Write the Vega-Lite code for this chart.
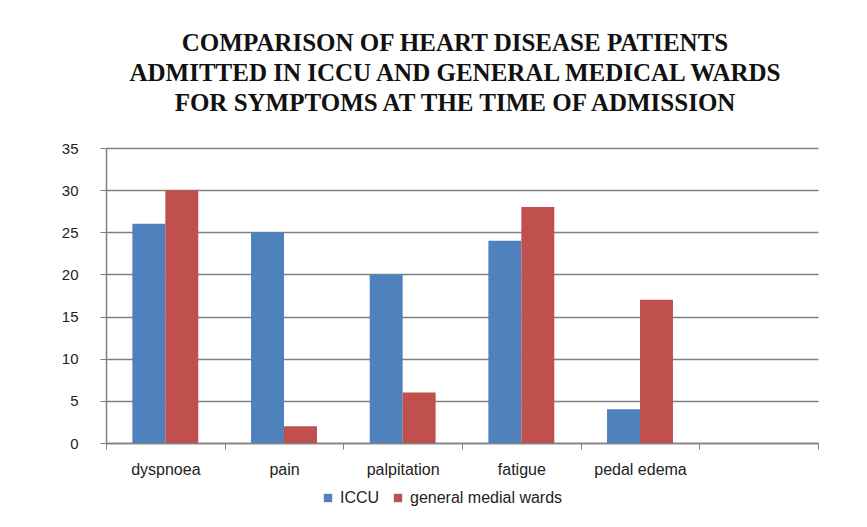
{
  "$schema": "https://vega.github.io/schema/vega-lite/v6.json",
  "autosize": "none",
  "width": 712,
  "height": 295,
  "padding": {"left": 106, "top": 148, "right": 49, "bottom": 84},
  "background": "white",
  "title": {
    "text": ["COMPARISON OF HEART DISEASE PATIENTS", "ADMITTED IN ICCU AND GENERAL MEDICAL WARDS", "FOR  SYMPTOMS AT THE TIME OF ADMISSION"],
    "font": "Liberation Serif",
    "fontSize": 25,
    "fontWeight": "bold",
    "color": "#111111",
    "lineHeight": 30,
    "anchor": "middle",
    "offset": 25,
    "dx": -7
  },
  "data": {
    "values": [
      {"symptom": "dyspnoea", "ward": "ICCU", "patients": 26},
      {"symptom": "dyspnoea", "ward": "general medial wards", "patients": 30},
      {"symptom": "pain", "ward": "ICCU", "patients": 25},
      {"symptom": "pain", "ward": "general medial wards", "patients": 2},
      {"symptom": "palpitation", "ward": "ICCU", "patients": 20},
      {"symptom": "palpitation", "ward": "general medial wards", "patients": 6},
      {"symptom": "fatigue", "ward": "ICCU", "patients": 24},
      {"symptom": "fatigue", "ward": "general medial wards", "patients": 28},
      {"symptom": "pedal edema", "ward": "ICCU", "patients": 4},
      {"symptom": "pedal edema", "ward": "general medial wards", "patients": 17}
    ]
  },
  "mark": {"type": "bar"},
  "encoding": {
    "x": {
      "field": "symptom",
      "type": "nominal",
      "sort": null,
      "title": null,
      "scale": {"domain": ["dyspnoea", "pain", "palpitation", "fatigue", "pedal edema", " "], "paddingInner": 0, "paddingOuter": 0},
      "axis": {
        "labelAngle": 0,
        "tickBand": "extent",
        "ticks": true,
        "tickSize": 6,
        "tickColor": "#808080",
        "domainColor": "#808080",
        "domainWidth": 1.5,
        "labelFont": "Liberation Sans",
        "labelFontSize": 16,
        "labelColor": "#222222",
        "labelPadding": 12,
        "grid": false
      }
    },
    "xOffset": {
      "field": "ward",
      "type": "nominal",
      "sort": ["ICCU", "general medial wards"],
      "scale": {"paddingInner": 0, "paddingOuter": 0.8}
    },
    "y": {
      "field": "patients",
      "type": "quantitative",
      "title": null,
      "scale": {"domain": [0, 35], "nice": false},
      "axis": {
        "values": [0, 5, 10, 15, 20, 25, 30, 35],
        "grid": true,
        "gridColor": "#808080",
        "gridWidth": 1.5,
        "domainColor": "#808080",
        "domainWidth": 1.5,
        "tickColor": "#808080",
        "tickSize": 6,
        "labelFont": "Liberation Sans",
        "labelFontSize": 15,
        "labelColor": "#222222",
        "labelPadding": 22
      }
    },
    "color": {
      "field": "ward",
      "type": "nominal",
      "sort": ["ICCU", "general medial wards"],
      "scale": {"domain": ["ICCU", "general medial wards"], "range": ["#4F81BD", "#C0504D"]},
      "legend": {
        "title": null,
        "orient": "none",
        "legendX": 214,
        "legendY": 342,
        "direction": "horizontal",
        "symbolType": "square",
        "symbolSize": 70,
        "symbolStrokeWidth": 0,
        "labelFont": "Liberation Sans",
        "labelFontSize": 16,
        "labelColor": "#222222",
        "columnPadding": 10
      }
    }
  },
  "config": {
    "view": {"stroke": null}
  }
}
